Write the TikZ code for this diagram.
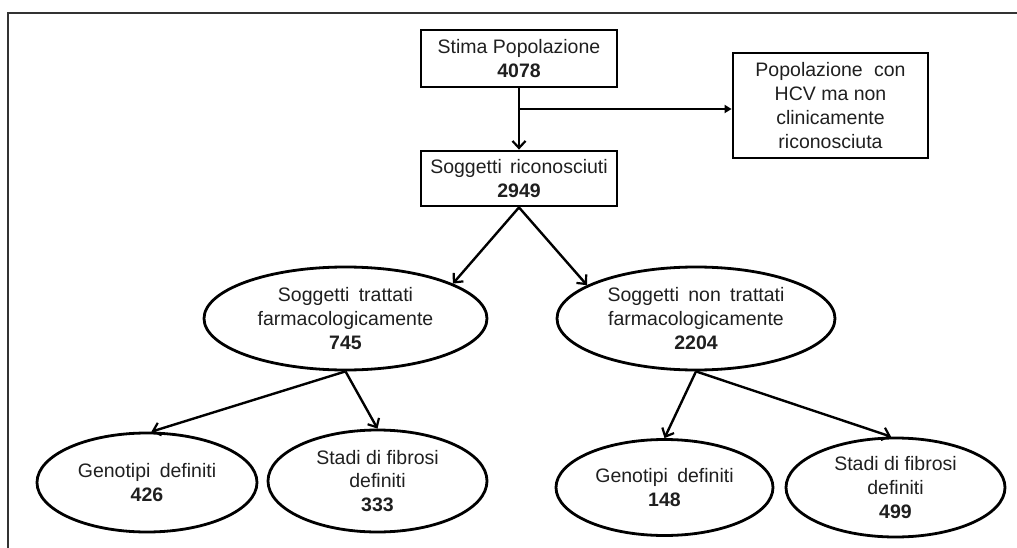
\documentclass[tikz,border=0pt]{standalone}
\usepackage{fontspec}
\setmainfont{Liberation Sans}
\usetikzlibrary{shapes.geometric,arrows.meta}
\tikzset{
  txt/.style={font=\fontsize{19.5}{23.8}\selectfont, align=center, text=black!88},
  rbox/.style={txt, draw, line width=2.8pt, rectangle, inner sep=0pt},
  ell/.style={txt, draw, line width=2.8pt, ellipse, inner sep=0pt},
  arr/.style={line width=2.4pt, -{Straight Barb[length=7pt,width=13pt,line width=2.2pt]}},
  harr/.style={line width=2.8pt, -{Triangle[length=7pt,width=8pt]}},
  frame/.style={line width=1.6pt, draw=black!80}
}
\begin{document}
\begin{tikzpicture}[x=1pt,y=-1pt]
\useasboundingbox (0,0) rectangle (1017,548);
\draw[frame] (8,548) -- (8,13) -- (1017,13);

\node[rbox, minimum width=196pt, minimum height=57pt] (stima) at (519,58.5)
  {Stima Popolazione\\\textbf{4078}};
\node[rbox, minimum width=195pt, minimum height=105pt] (hcv) at (830.5,105.5)
  {Popolazione\hspace{0.3em} con\\HCV ma non\\clinicamente\\riconosciuta};
\node[rbox, minimum width=196pt, minimum height=55pt] (sogg) at (519,178.5)
  {Soggetti\hspace{0.15em} riconosciuti\\\textbf{2949}};

\node[ell, minimum width=283pt, minimum height=103pt] (tr) at (345.5,318.5)
  {Soggetti\hspace{0.2em} trattati\\farmacologicamente\\\textbf{745}};
\node[ell, minimum width=278pt, minimum height=103pt] (ntr) at (696,318.5)
  {Soggetti\hspace{0.2em} non\hspace{0.2em} trattati\\farmacologicamente\\\textbf{2204}};

\node[ell, minimum width=220pt, minimum height=99pt] (g1) at (147,482.5)
  {Genotipi\hspace{0.2em} definiti\\\textbf{426}};
\node[ell, minimum width=219pt, minimum height=102pt] (s1) at (377.5,481)
  {Stadi di fibrosi\\definiti\\\textbf{333}};
\node[ell, minimum width=217pt, minimum height=96pt] (g2) at (664.5,487.5)
  {Genotipi\hspace{0.2em} definiti\\\textbf{148}};
\node[ell, minimum width=219pt, minimum height=99pt] (s2) at (895.5,487.5)
  {Stadi di fibrosi\\definiti\\\textbf{499}};

\coordinate (j) at (519,109);
\draw[arr] (stima.south) -- (sogg.north);
\draw[harr] (j) -- (j -| hcv.west);

\draw[arr] (sogg.south) -- (tr.18);
\draw[arr] (sogg.south) -- (ntr.163);

\draw[arr] (tr.south) -- (g1.85);
\draw[arr] (tr.south) -- (s1.north);
\draw[arr] (ntr.south) -- (g2.north);
\draw[arr] (ntr.south) -- (s2.95);
\end{tikzpicture}
\end{document}
